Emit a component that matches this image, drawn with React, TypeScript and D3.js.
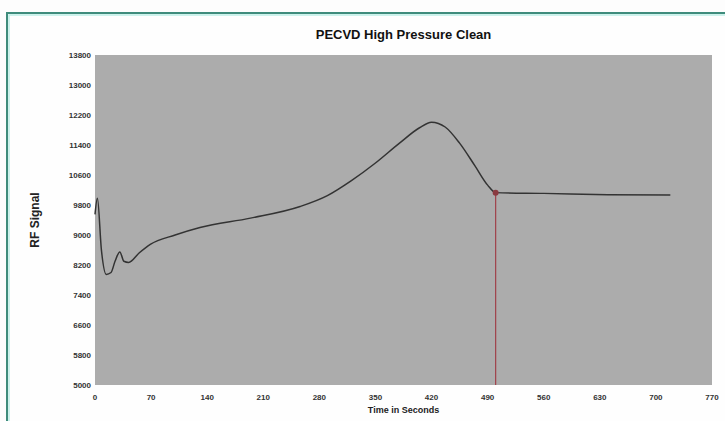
import React from "react";
import * as d3 from "d3";

const timeSec = [0, 3, 8, 14, 20, 25, 31, 36, 42, 55, 69, 100, 131, 194, 256, 290, 320, 350, 380, 405, 420, 437, 455, 474, 490, 500, 560, 640, 718];
const rfSignal = [9550, 9980, 8600, 7950, 8000, 8300, 8550, 8300, 8270, 8520, 8750, 9000, 9200, 9450, 9760, 10050, 10450, 10920, 11450, 11860, 12010, 11880, 11450, 10850, 10330, 10130, 10110, 10075, 10065];
const xTicks = [0, 70, 140, 210, 280, 350, 420, 490, 560, 630, 700, 770];
const yTicks = [5000, 5800, 6600, 7400, 8200, 9000, 9800, 10600, 11400, 12200, 13000, 13800];
const markerTime = 500;
const markerValue = 10130;

const W = 725, H = 421;
const left = 95, right = 712, top = 55, bottom = 385;

export default function App() {
  const x = d3.scaleLinear().domain([0, 770]).range([left, right]);
  const y = d3.scaleLinear().domain([5000, 13800]).range([bottom, top]);
  const pts = timeSec.map((t, i) => [t, rfSignal[i]] as [number, number]);
  const line = d3.line<[number, number]>().x(d => x(d[0])).y(d => y(d[1])).curve(d3.curveMonotoneX);
  const font = "'Liberation Sans', Arial, sans-serif";
  return (
    <svg width={W} height={H} style={{ position: "absolute", left: 0, top: 0, background: "#fdfdfd" }} fontFamily={font}>
      <rect x={0} y={0} width={W} height={H} fill="#fdfdfd" />
      <rect x={7} y={13} width={740} height={440} fill="#fefefe" stroke="#3f8c7c" strokeWidth={2} />
      <rect x={9} y={15} width={736} height={436} fill="none" stroke="#bdeee6" strokeWidth={1.5} />
      <text x={(left + right) / 2} y={39} textAnchor="middle" fontSize={13} fontWeight="bold" fill="#111">PECVD High Pressure Clean</text>
      <rect x={left} y={top} width={right - left} height={bottom - top} fill="#acacac" />
      {yTicks.map(v => (
        <text key={v} x={left - 4} y={y(v) + 3} textAnchor="end" fontSize={8} fontWeight="bold" fill="#333">{v}</text>
      ))}
      {xTicks.map(t => (
        <text key={t} x={x(t)} y={y(5000) + 15} textAnchor="middle" fontSize={8} fontWeight="bold" fill="#333">{t}</text>
      ))}
      <text x={(left + right) / 2} y={413} textAnchor="middle" fontSize={9} fontWeight="bold" fill="#222">Time in Seconds</text>
      <text transform={`translate(39, ${(top + bottom) / 2}) rotate(-90)`} textAnchor="middle" fontSize={12} fontWeight="bold" fill="#222">RF Signal</text>
      <path d={line(pts) ?? ""} fill="none" stroke="#333" strokeWidth={1.5} />
      <line x1={x(markerTime)} x2={x(markerTime)} y1={y(markerValue)} y2={bottom} stroke="#a0404a" strokeWidth={1.2} />
      <circle cx={x(markerTime)} cy={y(markerValue)} r={3} fill="#8a3a40" />
    </svg>
  );
}
